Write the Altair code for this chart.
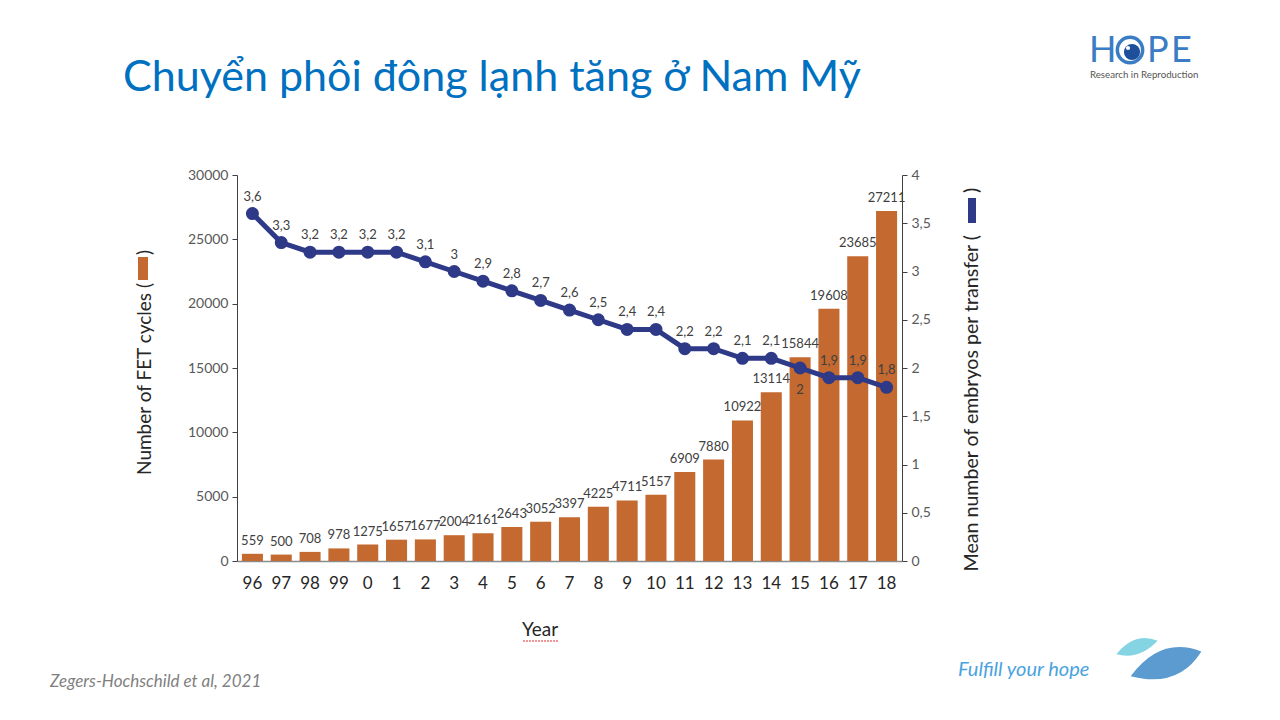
import altair as alt
import pandas as pd

years = ["96", "97", "98", "99", "0", "1", "2", "3", "4", "5", "6", "7", "8", "9",
         "10", "11", "12", "13", "14", "15", "16", "17", "18"]
fet_cycles = [559, 500, 708, 978, 1275, 1657, 1677, 2004, 2161, 2643, 3052, 3397,
              4225, 4711, 5157, 6909, 7880, 10922, 13114, 15844, 19608, 23685, 27211]
mean_embryos = [3.6, 3.3, 3.2, 3.2, 3.2, 3.2, 3.1, 3.0, 2.9, 2.8, 2.7, 2.6, 2.5,
                2.4, 2.4, 2.2, 2.2, 2.1, 2.1, 2.0, 1.9, 1.9, 1.8]
left_ticks = [0, 5000, 10000, 15000, 20000, 25000, 30000]
right_ticks = [0, 0.5, 1, 1.5, 2, 2.5, 3, 3.5, 4]

FONT = "Lato"
ORANGE = "#C4692F"
NAVY = "#2E3A87"
TXT = "#404040"

df = pd.DataFrame({"year": years, "fet": fet_cycles, "mean": mean_embryos})
one = pd.DataFrame({"k": [0]})

xenc = alt.X(
    "year:N", sort=years,
    scale=alt.Scale(paddingInner=0.27, paddingOuter=0.17),
    axis=alt.Axis(title=None, labelAngle=0, labelFontSize=17, labelColor="#262626",
                  labelFont=FONT, labelPadding=14, ticks=False,
                  domainColor="#8c8c8c", domainWidth=1.5),
)

yleft = alt.Y(
    "fet:Q", scale=alt.Scale(domain=[0, 30000], nice=False),
    axis=alt.Axis(title=None, orient="left", values=left_ticks, grid=False, format="d",
                  labelFontSize=14, labelColor="#595959", labelFont=FONT,
                  tickSize=5, tickColor="#404040", domainColor="#404040",
                  labelPadding=4),
)
yright = alt.Y(
    "mean:Q", scale=alt.Scale(domain=[0, 4], nice=False),
    axis=alt.Axis(title=None, orient="right", values=right_ticks, grid=False,
                  labelFontSize=14, labelColor="#595959", labelFont=FONT,
                  tickSize=5, tickColor="#404040", domainColor="#404040",
                  labelPadding=4,
                  labelExpr="replace(toString(datum.value), '.', ',')"),
)

base = alt.Chart(df)
bars = base.mark_bar(color=ORANGE).encode(x=xenc, y=yleft)
bar_labels = base.mark_text(baseline="bottom", dy=-6, fontSize=13, color=TXT,
                            font=FONT).encode(x=xenc, y=yleft, text=alt.Text("fet:Q", format="d"))
left_layer = alt.layer(bars, bar_labels)

line = base.mark_line(color=NAVY, strokeWidth=5).encode(x=xenc, y=yright)
pts = base.mark_point(filled=True, size=170, color=NAVY, opacity=1).encode(x=xenc, y=yright)
lab_base = base.transform_calculate(lab="replace(toString(datum.mean), '.', ',')")
line_labels = lab_base.transform_filter("datum.year != '15'").mark_text(
    baseline="bottom", dy=-10, fontSize=13, color=TXT, font=FONT
).encode(x=xenc, y=yright, text="lab:N")
line_labels_below = lab_base.transform_filter("datum.year == '15'").mark_text(
    baseline="top", dy=16, fontSize=13, color=TXT, font=FONT
).encode(x=xenc, y=yright, text="lab:N")
right_layer = alt.layer(line, pts, line_labels, line_labels_below)


def txt(s, x, y, **kw):
    return alt.Chart(one).mark_text(text=s, **kw).encode(x=alt.value(x), y=alt.value(y))


deco = [
    txt("Chuyển phôi đông lạnh tăng ở Nam Mỹ", -114, -97, align="left", baseline="middle",
        fontSize=43, color="#0070C0", font=FONT),
    txt("Zegers-Hochschild et al, 2021", -187, 507, align="left", baseline="middle",
        fontSize=17, color="#7f7f7f", font=FONT, fontStyle="italic"),
    # left axis title
    txt("Number of FET cycles (", -92, 108, align="right", baseline="middle",
        angle=270, fontSize=19, color="#262626", font=FONT),
    txt(")", -92, 80, align="left", baseline="middle",
        angle=270, fontSize=19, color="#262626", font=FONT),
    # right axis title
    txt("Mean number of embryos per transfer (", 735, 60, align="right",
        baseline="middle", angle=270, fontSize=19.6, color="#262626", font=FONT),
    txt(")", 735, 18, align="left",
        baseline="middle", angle=270, fontSize=19.6, color="#262626", font=FONT),
    txt("Year", 303, 455, align="center", baseline="middle", fontSize=19,
        color="#262626", font=FONT),
    # HOPE logo
    txt("H", 852, -113, align="left", baseline="alphabetic", fontSize=36,
        color="#3B7DC4", font=FONT),
    txt("P", 910, -113, align="left", baseline="alphabetic", fontSize=36,
        color="#3B7DC4", font=FONT),
    txt("E", 934, -113, align="left", baseline="alphabetic", fontSize=36,
        color="#3B7DC4", font=FONT),
    txt("Research in Reproduction", 853, -100, align="left", baseline="middle",
        fontSize=9.7, color="#555555", font=FONT),
    txt("Fulfill your hope", 721, 495, align="left", baseline="middle", fontSize=20,
        color="#4AA3DF", font=FONT, fontStyle="italic"),
    alt.Chart(one).mark_point(filled=False, size=640, strokeWidth=3.5, color="#3B7DC4",
                              opacity=1).encode(x=alt.value(893), y=alt.value(-125)),
    alt.Chart(one).mark_point(filled=True, size=260, color="#1F4F9A",
                              opacity=1).encode(x=alt.value(895), y=alt.value(-123)),
    alt.Chart(one).mark_point(filled=True, size=18, color="white",
                              opacity=1).encode(x=alt.value(891), y=alt.value(-127)),
    # leaves
    alt.Chart(one).mark_point(filled=True, size=1700, color="#85D4E3", opacity=1,
                              shape="M -1 0.35 Q -0.1 -0.75 1 -0.3 Q 0.1 0.65 -1 0.35 Z"
                              ).encode(x=alt.value(900), y=alt.value(472)),
    alt.Chart(one).mark_point(filled=True, size=5000, color="#5B9BD0", opacity=1,
                              shape="M -1 0.4 Q -0.15 -0.75 1 -0.3 Q 0.35 0.75 -1 0.4 Z"
                              ).encode(x=alt.value(929), y=alt.value(487)),
    # legend swatches inside axis titles
    alt.Chart(one).mark_rect(color=ORANGE).encode(
        x=alt.value(-99), x2=alt.value(-89), y=alt.value(82), y2=alt.value(105)),
    alt.Chart(one).mark_rect(color=NAVY).encode(
        x=alt.value(731), x2=alt.value(739), y=alt.value(23), y2=alt.value(48)),
    alt.Chart(one).mark_rule(color="#E03030", strokeWidth=1.2, strokeDash=[2, 1]).encode(
        x=alt.value(286), x2=alt.value(322), y=alt.value(466)),
]

chart = alt.layer(left_layer, right_layer, *deco).resolve_scale(y="independent").properties(
    width=665, height=386,
    background="white",
    autosize=alt.AutoSizeParams(type="none"),
    padding={"left": 229, "top": 167, "right": 368, "bottom": 145},
).configure_view(strokeWidth=0)

chart.save("out.html", embed_options={"renderer": "svg", "actions": False})
